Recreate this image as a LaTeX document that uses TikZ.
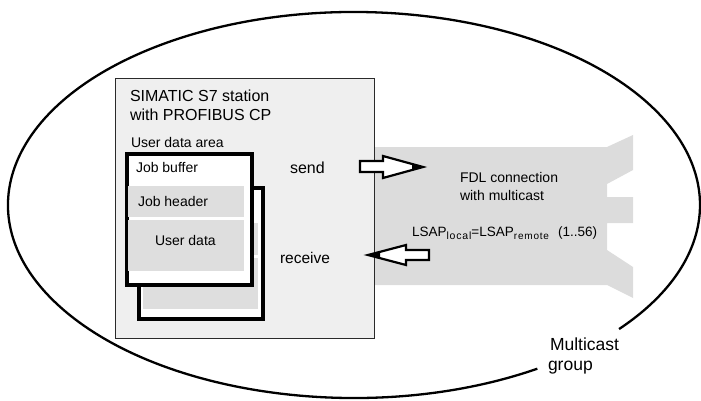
\documentclass[tikz,border=0pt]{standalone}
\usepackage{fontspec}
\setmainfont{Liberation Sans}
\newcommand\setfs[1]{\fontsize{#1}{#1}\selectfont}
\definecolor{stationgray}{HTML}{EFEFEF}
\definecolor{bandgray}{HTML}{DCDCDC}
\definecolor{rowgray}{HTML}{DEDEDE}
\definecolor{edgegray}{HTML}{2A2A2A}
\begin{document}
\begin{tikzpicture}[x=1pt,y=1pt,yscale=-1,
  txt/.style={anchor=base west, inner sep=0pt, outer sep=0pt},
  stationbox/.style={draw=edgegray, line width=1.4pt, fill=stationgray, anchor=north west, inner sep=0pt},
  bufbox/.style={draw=black, line width=4pt, fill=white, anchor=north west, inner sep=0pt},
  rowbox/.style={fill=rowgray, draw=none, anchor=north west, inner sep=0pt},
  blockarrow/.style={draw=black, line width=2.2pt, fill=white, line join=miter},
  ellline/.style={draw=black, line width=2.3pt}]
\useasboundingbox (0,0) rectangle (701,401);
% multicast group ellipse (open where the label sits)
\draw[ellline] (354,205) ++(58:346pt and 193pt) arc[start angle=58, end angle=400, x radius=346pt, y radius=193pt];
% FDL connection band
\fill[bandgray] (373,147) -- (607,147) -- (633,135) -- (633,170) -- (607,184) -- (607,197) -- (633,197) -- (633,223) -- (607,223) -- (607,250) -- (633,267) -- (633,298) -- (607,285) -- (373,285) -- cycle;
% station
\node[stationbox, minimum width=259pt, minimum height=260pt] (station) at (115,78) {};
% back job buffer
\node[bufbox, minimum width=124pt, minimum height=131pt] (back) at (137,186) {};
\node[rowbox, minimum width=115pt, minimum height=32pt] (backhead) at (143,223) {};
\node[rowbox, minimum width=115pt, minimum height=51pt] (backdata) at (143,258) {};
% front job buffer
\node[bufbox, minimum width=125pt, minimum height=131pt] (front) at (124.7,152) {};
\node[rowbox, minimum width=116pt, minimum height=31pt] (head) at (128,186) {};
\node[rowbox, minimum width=116pt, minimum height=51pt] (data) at (128,220) {};
% texts
\node[txt, font=\setfs{16}] (t1) at (130,102) {SIMATIC S7 station};
\node[txt, font=\setfs{16}] (t2) at (130,121) {with PROFIBUS CP};
\node[txt, font=\setfs{14}] (uda) at (131,147) {User data area};
\node[txt, font=\setfs{14}] (jb) at (136,172) {Job buffer};
\node[txt, font=\setfs{14}] (jh) at (138,206) {Job header};
\node[txt, font=\setfs{14}] (ud) at (155,245) {User data};
\node[txt, font=\setfs{16}] (send) at (290,173) {send};
\node[txt, font=\setfs{15.5}] (recv) at (280,263) {receive};
\node[txt, font=\setfs{14}] (fdl1) at (460,182) {FDL connection};
\node[txt, font=\setfs{14}] (fdl2) at (460,200) {with multicast};
\node[txt, font=\setfs{13.5}] (lsap) at (412,236) {LSAP\raisebox{-3pt}{\setfs{10.5}\addfontfeature{LetterSpace=8}local}=LSAP\raisebox{-3pt}{\setfs{10}\addfontfeature{LetterSpace=8}remote}\hspace{9pt}(1..56)};
\node[txt, font=\setfs{17.5}] (mc1) at (550,350) {Multicast};
\node[txt, font=\setfs{17.5}] (mc2) at (548,370) {group};
% send arrow
\coordinate (sendtail) at (360,166.5);
\draw[blockarrow] (sendtail) ++(0,-5.5) -- ++(23,0) -- ++(0,-5) -- (423,167) -- (383,178) -- ++(0,-6) -- ++(-23,0) -- cycle;
\fill (412,163.5) -- (425,167) -- (412,170.5) -- cycle;
% receive arrow
\coordinate (recvtip) at (368,255);
\draw[blockarrow] (recvtip) -- (406,245) -- (406,250) -- (429,250) -- (429,260) -- (406,260) -- (406,265) -- cycle;
\fill (366,255) -- (380,251.5) -- (380,258.5) -- cycle;
\end{tikzpicture}
\end{document}
